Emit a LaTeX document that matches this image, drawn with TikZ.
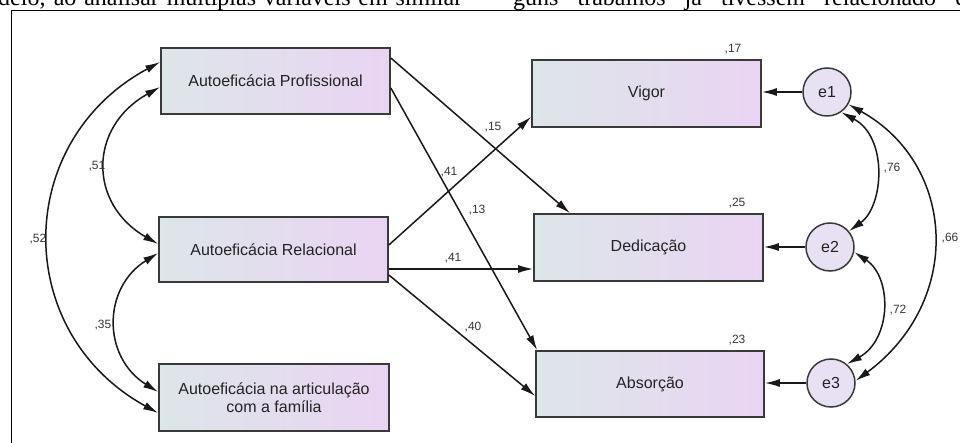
\documentclass[tikz,border=0pt]{standalone}
\usepackage{fontspec}
\setmainfont{Liberation Sans}
\newfontfamily\serifpage{Liberation Serif}
\usetikzlibrary{arrows.meta}
\definecolor{boxL}{RGB}{221,230,233}
\definecolor{boxR}{RGB}{234,212,243}
\definecolor{boxline}{RGB}{58,58,58}
\definecolor{textc}{RGB}{35,35,35}
\definecolor{circ}{RGB}{231,225,243}
\definecolor{linec}{RGB}{25,25,25}
\definecolor{labc}{RGB}{55,55,55}
\begin{document}
\begin{tikzpicture}[x=1pt,y=-1pt,
  box/.style={draw=boxline, line width=1.7pt, rectangle, left color=boxL, right color=boxR, font=\fontsize{16}{18}\selectfont, text=textc, align=center, inner sep=0pt},
  err/.style={circle, draw=boxline, line width=1.5pt, fill=circ, minimum size=48pt, inner sep=0pt, font=\fontsize{16}{18}\selectfont, text=textc},
  conn/.style={draw=linec, line width=1.5pt, -{Latex[length=15pt,width=8pt]}},
  cov/.style={draw=linec, line width=1.5pt, {Latex[length=15pt,width=8pt]}-{Latex[length=15pt,width=8pt]}},
  lab/.style={font=\fontsize{12}{14}\selectfont, text=labc, inner sep=0pt}
]
\useasboundingbox (0,0) rectangle (960,443);
\fill[white] (0,0) rectangle (960,443);
\clip (0,0) rectangle (960,443);

% page text (cut off at top, as in the scanned page)
\node[anchor=base west, inner sep=0pt, font=\serifpage\fontsize{24}{26}\selectfont] (t1) at (-2,6) {\makebox[464pt][s]{delo, ao analisar múltiplas variáveis em similar}};
\node[anchor=base west, inner sep=0pt, font=\serifpage\fontsize{24}{26}\selectfont] (t2) at (513,6) {\makebox[462pt][s]{guns trabalhos já tivessem relacionado es}};

% frame
\coordinate (fbl) at (11.5,443);
\coordinate (ftl) at (11.5,10.5);
\coordinate (ftr) at (960,10.5);
\draw[line width=1.6pt, black] (fbl) -- (ftl) -- (ftr);

% boxes
\node[box, minimum width=229pt, minimum height=66pt] (ap) at (275.5,81) {Autoeficácia Profissional};
\node[box, minimum width=229pt, minimum height=65pt] (ar) at (273.5,249.5) {Autoeficácia Relacional};
\node[box, minimum width=230pt, minimum height=67pt] (af) at (274,397.5) {Autoeficácia na articulação\\com a família};
\node[box, minimum width=229pt, minimum height=67pt] (vig) at (646.5,93.5) {Vigor};
\node[box, minimum width=229pt, minimum height=67pt] (ded) at (648.5,247.5) {Dedicação};
\node[box, minimum width=228pt, minimum height=66pt] (abs) at (650,384) {Absorção};

% error terms
\node[err] (e1) at (827,92) {e1};
\node[err] (e2) at (830,247) {e2};
\node[err] (e3) at (831,383) {e3};

% regression paths
\draw[conn] ([yshift=23pt]ap.east) -- ([xshift=-78.5pt]ded.north);
\draw[conn] ([yshift=-7pt]ap.east) -- ([xshift=2pt]abs.north west);
\draw[conn] ([yshift=4.5pt]ar.east) -- ([yshift=11pt]vig.south west);
\coordinate (ard) at ([yshift=-19.5pt]ar.east);
\draw[conn] (ard) -- (ard -| ded.west);
\draw[conn] ([yshift=-25.5pt]ar.east) -- ([yshift=-12pt]abs.west);

\draw[conn] (e1) -- (e1 -| vig.east);
\draw[conn] (e2) -- (e2 -| ded.east);
\draw[conn] (e3) -- (e3 -| abs.east);

% covariances left
\draw[cov] ([yshift=-6pt]ap.west) .. controls +(-72,40) and +(-70,-40) .. ([yshift=5.5pt]ar.west);
\draw[cov] ([yshift=19pt]ap.west) .. controls +(-148,80) and +(-146,-80) .. ([yshift=-15.5pt]af.west);
\draw[cov] ([yshift=-3.5pt]ar.west) .. controls +(-56,35) and +(-56,-35) .. ([yshift=5.5pt]af.west);

% covariances right
\draw[cov] (e1.-55) .. controls +(47,25) and +(35,-25) .. (e2.40);
\draw[cov] (e2.-12) .. controls +(38,25) and +(45,-25) .. (e3.50);
\draw[cov] (e1.-30) .. controls +(108,60) and +(108,-80) .. (e3.5);

% labels
\node[lab] (l17) at (733,49) {,17};
\node[lab] (l25) at (737,203) {,25};
\node[lab] (l23) at (737,340) {,23};
\node[lab] (l76) at (892,168) {,76};
\node[lab] (l66) at (950,238) {,66};
\node[lab] (l72) at (898,310) {,72};
\node[lab] (l51) at (97,166) {,51};
\node[lab] (l52) at (38,239) {,52};
\node[lab] (l35) at (103,325) {,35};
\node[lab] (l15) at (493,127) {,15};
\node[lab] (l41a) at (449,172) {,41};
\node[lab] (l13) at (477,210) {,13};
\node[lab] (l41b) at (453,258) {,41};
\node[lab] (l40) at (473,327) {,40};
\end{tikzpicture}
\end{document}
